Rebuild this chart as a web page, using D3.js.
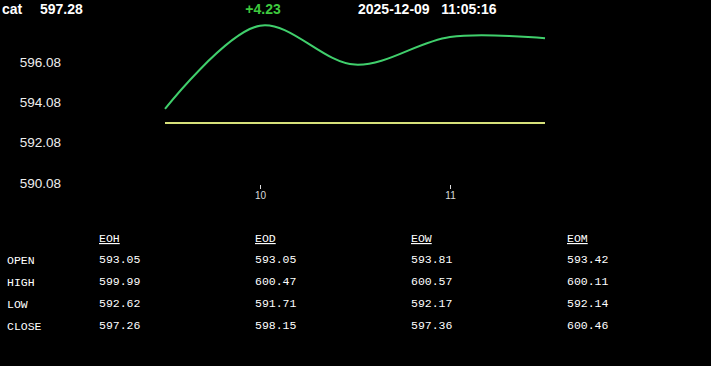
<!DOCTYPE html>
<html>
<head>
<meta charset="utf-8">
<script src="https://cdn.jsdelivr.net/npm/d3@7"></script>
<style>
  body { margin: 0; background: #000; }
  svg { display: block; }
</style>
</head>
<body>
<div id="chart"></div>
<script>
// header values
const symbol = 'cat'
const lastPrice = '597.28'
const change = '+4.23'
const stamp = '2025-12-09   11:05:16'

// intraday price, half-hour points (minutes after midnight)
const times = [570, 600, 630, 660, 690]
const prices = [593.75, 597.88, 595.95, 597.32, 597.26]
const prevClose = 593.05
const yTicks = [590.08, 592.08, 594.08, 596.08]
const xTicks = [600, 660]

// summary table
const columns = ['EOH', 'EOD', 'EOW', 'EOM']
const rows = ['OPEN', 'HIGH', 'LOW', 'CLOSE']
const openVals = [593.05, 593.05, 593.81, 593.42]
const highVals = [599.99, 600.47, 600.57, 600.11]
const lowVals = [592.62, 591.71, 592.17, 592.14]
const closeVals = [597.26, 598.15, 597.36, 600.46]

const width = 711, height = 366

const svg = d3.select('#chart').append('svg')
  .attr('width', width)
  .attr('height', height)

svg.append('rect').attr('width', width).attr('height', height).attr('fill', '#000')

// header
const head = svg.append('g').attr('font-family', 'Arial, Liberation Sans, sans-serif')
  .attr('font-weight', 'bold').attr('font-size', 14)
head.append('text').attr('x', 2).attr('y', 14).attr('fill', '#fff').text(symbol)
head.append('text').attr('x', 40).attr('y', 14).attr('fill', '#fff').text(lastPrice)
head.append('text').attr('x', 263).attr('y', 14).attr('text-anchor', 'middle')
  .attr('fill', '#3ec93e').text(change)
head.append('text').attr('x', 358).attr('y', 14).attr('fill', '#fff')
  .style('white-space', 'pre').text(stamp)

// scales
const x = d3.scaleLinear().domain([600, 660]).range([260, 450])
const y = d3.scaleLinear().domain([590.08, 596.08]).range([183, 62])

// y labels
svg.append('g').selectAll('text')
  .data(yTicks).enter()
  .append('text')
  .attr('x', 61)
  .attr('y', d => y(d))
  .attr('dy', '0.35em')
  .attr('text-anchor', 'end')
  .attr('font-family', 'Arial, Liberation Sans, sans-serif')
  .attr('font-size', 13.5)
  .attr('fill', '#eee')
  .text(d => d.toFixed(2))

// x axis
const xAxis = d3.axisBottom(x).tickValues(xTicks).tickSize(4).tickFormat(d => d / 60)
const gx = svg.append('g').attr('transform', 'translate(0, 185)').call(xAxis)
gx.select('.domain').remove()
gx.selectAll('line').attr('stroke', '#ddd')
gx.selectAll('text').attr('fill', '#ddd').attr('font-size', 10)
  .attr('font-family', 'Arial, Liberation Sans, sans-serif').attr('y', 7)

// previous close reference
svg.append('path')
  .attr('d', d3.line().x(d => x(d)).y(() => y(prevClose))(times))
  .attr('fill', 'none')
  .attr('stroke', '#d6e07a')
  .attr('stroke-width', 2)

// price line
const line = d3.line()
  .x((d, i) => x(times[i]))
  .y(d => y(d))
  .curve(d3.curveCatmullRom)

svg.append('path')
  .attr('d', line(prices))
  .attr('fill', 'none')
  .attr('stroke', '#40cf6c')
  .attr('stroke-width', 2)

// table
const table = svg.append('g')
  .attr('font-family', 'Liberation Mono, DejaVu Sans Mono, monospace')
  .attr('font-size', 11.5)
  .attr('fill', '#fff')
const colX = i => 99 + i * 156
const rowY = i => 263 + i * 22
const tableVals = [openVals, highVals, lowVals, closeVals]

table.selectAll('.head')
  .data(columns).enter()
  .append('text')
  .attr('class', 'head')
  .attr('x', (d, i) => colX(i))
  .attr('y', 242)
  .attr('text-decoration', 'underline')
  .text(d => d)

table.selectAll('.rowlabel')
  .data(rows).enter()
  .append('text')
  .attr('class', 'rowlabel')
  .attr('x', 7)
  .attr('y', (d, i) => rowY(i) + 1)
  .text(d => d)

table.selectAll('.row')
  .data(tableVals).enter()
  .append('g')
  .attr('class', 'row')
  .selectAll('text')
  .data((d, r) => d.map(v => ({ v, r }))).enter()
  .append('text')
  .attr('x', (d, i) => colX(i))
  .attr('y', d => rowY(d.r))
  .text(d => d.v.toFixed(2))
</script>
</body>
</html>
